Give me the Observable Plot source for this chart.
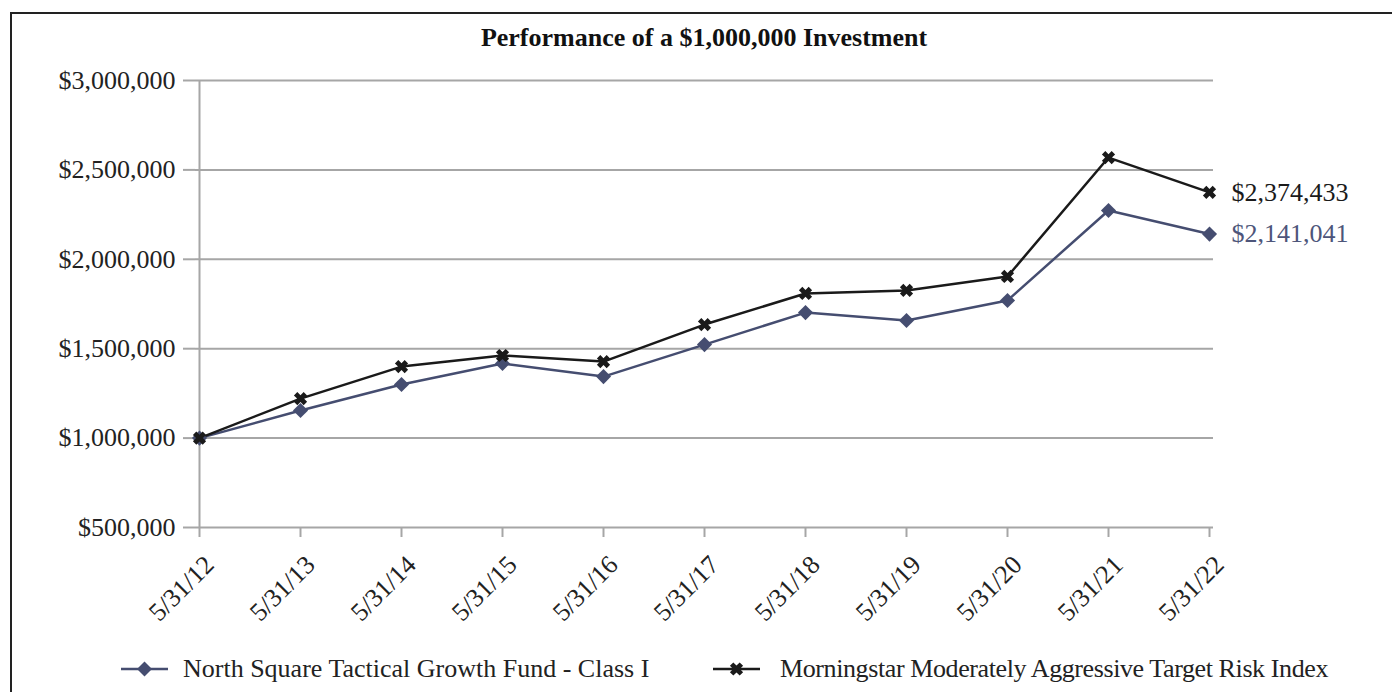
<!DOCTYPE html>
<html><head><meta charset="utf-8">
<script src="https://cdn.jsdelivr.net/npm/d3@7"></script>
<script src="https://cdn.jsdelivr.net/npm/@observablehq/plot@0.6"></script>
<style>
html,body{margin:0;padding:0;background:#fff;overflow:hidden;}
body{width:1392px;height:692px;position:relative;font-family:"Liberation Serif",serif;color:#222;}
#frame{position:absolute;left:10px;top:12px;width:1500px;height:800px;border-left:2px solid #222;border-top:2px solid #222;}
#chart{position:absolute;left:0;top:0;}
#title{position:absolute;left:195px;width:1018px;top:25px;line-height:26px;text-align:center;font-weight:bold;font-size:26px;color:#111;}
.leg{position:absolute;top:655px;height:27px;line-height:27px;display:flex;align-items:center;font-size:26px;color:#222;white-space:nowrap;}
.leg svg{display:block;}
#leg2 span{letter-spacing:-0.4px;}
</style></head>
<body>
<div id="frame"></div>
<div id="chart"></div>
<div id="title">Performance of a $1,000,000 Investment</div>
<div class="leg" id="leg1" style="left:121px"></div>
<div class="leg" id="leg2" style="left:713px"></div>
<script>
const dates = ["5/31/12","5/31/13","5/31/14","5/31/15","5/31/16","5/31/17","5/31/18","5/31/19","5/31/20","5/31/21","5/31/22"];
const fundName = "North Square Tactical Growth Fund - Class I";
const indexName = "Morningstar Moderately Aggressive Target Risk Index";
const fundValues = [1000000,1154000,1300000,1417000,1344000,1523000,1702000,1658000,1770000,2273000,2141041];
const indexValues = [1000000,1221000,1400000,1462000,1428000,1635000,1809000,1826000,1904000,2569000,2374433];
const yTicks = [500000,1000000,1500000,2000000,2500000,3000000];
const fundColor = "#454d70";
const fundLabelColor = "#4d557a";
const indexColor = "#1a1a1a";
const gridColor = "#a6a6a6";

const fundRows = dates.map((d,i)=>({date:d, value:fundValues[i], series:fundName}));
const indexRows = dates.map((d,i)=>({date:d, value:indexValues[i], series:indexName}));
const money = v => "$" + d3.format(",")(v);

// X-shaped (rotated cross) marker
const xSymbol = {
  draw(ctx, size){
    const s = Math.sqrt(size)/2;
    const L = s*1.2, w = s*0.42;
    const pts = [[-w,-L],[w,-L],[w,-w],[L,-w],[L,w],[w,w],[w,L],[-w,L],[-w,w],[-L,w],[-L,-w],[-w,-w]];
    const c = Math.SQRT1_2;
    pts.forEach(([x,y],i)=>{
      const rx = (x - y)*c, ry = (x + y)*c;
      if(i===0) ctx.moveTo(rx,ry); else ctx.lineTo(rx,ry);
    });
    ctx.closePath();
  }
};

const chart = Plot.plot({
  width:1392, height:692,
  marginLeft:195, marginRight:179, marginTop:80, marginBottom:165,
  x:{type:"point", domain:dates, padding:0},
  y:{domain:[500000,3000000]},
  style:{fontFamily:"Liberation Serif", fontSize:"26px", color:"#222", background:"transparent", overflow:"visible"},
  marks:[
    Plot.ruleY(yTicks,{stroke:gridColor, strokeWidth:2}),
    Plot.ruleX([dates[0]],{y1:yTicks[0], y2:yTicks[yTicks.length-1], stroke:gridColor, strokeWidth:2}),
    Plot.axisY({ticks:yTicks, tickSize:12, tickFormat:()=>"", stroke:gridColor, strokeWidth:2, label:null}),
    Plot.axisY({ticks:yTicks, tickSize:0, tickPadding:20, tickFormat:money, label:null, fill:"#222", fontSize:26}),
    Plot.axisX({tickSize:10, tickFormat:()=>"", stroke:gridColor, strokeWidth:2, label:null}),
    Plot.axisX({tickSize:0, tickPadding:33, tickRotate:-45, dx:10, label:null, fill:"#222", fontSize:26}),
    Plot.line(fundRows,{x:"date", y:"value", stroke:fundColor, strokeWidth:2.5}),
    Plot.line(indexRows,{x:"date", y:"value", stroke:indexColor, strokeWidth:2.5}),
    Plot.dot(fundRows,{x:"date", y:"value", symbol:"diamond2", r:6.8, fill:fundColor, stroke:null}),
    Plot.dot(indexRows,{x:"date", y:"value", symbol:xSymbol, r:6.5, fill:indexColor, stroke:null}),
    Plot.text(indexRows.slice(-1),{x:"date", y:"value", text:d=>money(d.value), dx:22, textAnchor:"start", fill:indexColor, fontSize:26}),
    Plot.text(fundRows.slice(-1),{x:"date", y:"value", text:d=>money(d.value), dx:22, textAnchor:"start", fill:fundLabelColor, fontSize:26})
  ]
});
document.getElementById("chart").appendChild(chart);

function swatch(color, kind, w, gap){
  const svg = d3.create("svg").attr("width",w+gap).attr("height",20);
  svg.append("line").attr("x1",0).attr("x2",w).attr("y1",10).attr("y2",10).attr("stroke",color).attr("stroke-width",2.5);
  const cx = w/2;
  if(kind==="diamond"){
    svg.append("path").attr("d",`M${cx},2.5L${cx+7.5},10L${cx},17.5L${cx-7.5},10Z`).attr("fill",color);
  } else {
    const path = d3.path();
    xSymbol.draw(path, Math.PI*6.5*6.5);
    svg.append("path").attr("d",path.toString()).attr("transform",`translate(${cx},10)`).attr("fill",color);
  }
  return svg.node();
}
const l1 = document.getElementById("leg1");
l1.appendChild(swatch(fundColor,"diamond",47,15));
l1.appendChild(Object.assign(document.createElement("span"),{textContent:fundName}));
const l2 = document.getElementById("leg2");
l2.appendChild(swatch(indexColor,"x",47,20));
l2.appendChild(Object.assign(document.createElement("span"),{textContent:indexName}));
</script>
</body></html>
